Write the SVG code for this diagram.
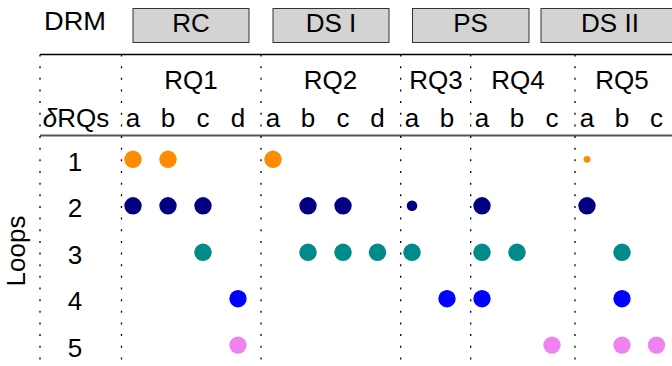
<svg xmlns="http://www.w3.org/2000/svg" width="672" height="366" viewBox="0 0 672 366">
<style>
text{font-family:"Liberation Sans",Arial,sans-serif;font-size:26px;fill:#000;text-anchor:middle}
.box{fill:#d3d3d3;stroke:#333;stroke-width:1}
.dot{stroke:#000;stroke-width:1.3;stroke-dasharray:2 9.65;fill:none}
.o{fill:#ff8c00}.n{fill:#000080}.t{fill:#008b8b}.b{fill:#0000ff}.v{fill:#ee82ee}
</style>
<rect width="672" height="366" fill="#fff"/>
<g id="header">
<text x="75" y="30" textLength="62" lengthAdjust="spacingAndGlyphs">DRM</text>
</g>
<g id="box-RC"><rect class="box" x="133" y="8.5" width="116" height="34"/><text x="191" y="32">RC</text></g>
<g id="box-DSI"><rect class="box" x="273" y="8.5" width="116" height="34"/><text x="331" y="32">DS I</text></g>
<g id="box-PS"><rect class="box" x="412.5" y="8.5" width="116.5" height="34"/><text x="470.5" y="32">PS</text></g>
<g id="box-DSII"><rect class="box" x="541" y="8.5" width="138" height="34"/><text x="610" y="32">DS II</text></g>
<g id="connectors">
<line x1="40" y1="54.5" x2="672" y2="54.5" stroke="#000" stroke-width="1.3"/>
<line x1="40" y1="135.5" x2="672" y2="135.5" stroke="#555" stroke-width="1.8"/>
<line class="dot" x1="40" y1="54.5" x2="40" y2="360"/>
<line class="dot" x1="121.5" y1="54.5" x2="121.5" y2="360"/>
<line class="dot" x1="261" y1="54.5" x2="261" y2="360"/>
<line class="dot" x1="400.7" y1="54.5" x2="400.7" y2="360"/>
<line class="dot" x1="470.7" y1="54.5" x2="470.7" y2="360"/>
<line class="dot" x1="575" y1="54.5" x2="575" y2="360"/>
</g>
<g id="rq-labels">
<text x="191" y="89">RQ1</text>
<text x="330.5" y="89">RQ2</text>
<text x="436" y="89">RQ3</text>
<text x="518" y="89">RQ4</text>
<text x="622" y="89">RQ5</text>
</g>
<g id="sub-labels">
<text x="76" y="127"><tspan font-style="italic">δ</tspan>RQs</text>
<text x="133" y="127">a</text><text x="168" y="127">b</text><text x="203" y="127">c</text><text x="238" y="127">d</text>
<text x="273" y="127">a</text><text x="308" y="127">b</text><text x="343" y="127">c</text><text x="377.5" y="127">d</text>
<text x="412" y="127">a</text><text x="447" y="127">b</text>
<text x="482" y="127">a</text><text x="517" y="127">b</text><text x="552" y="127">c</text>
<text x="587" y="127">a</text><text x="622" y="127">b</text><text x="656.5" y="127">c</text>
</g>
<g id="loops-axis">
<text transform="translate(25,251) rotate(-90)">Loops</text>
<text x="75" y="170.8">1</text>
<text x="75" y="217.3">2</text>
<text x="75" y="263.8">3</text>
<text x="75" y="310.2">4</text>
<text x="75" y="356.6">5</text>
</g>
<g id="row1">
<circle class="o" cx="133" cy="159.3" r="8.7"/><circle class="o" cx="168" cy="159.3" r="8.7"/><circle class="o" cx="273" cy="159.3" r="8.7"/><circle class="o" cx="587" cy="159.3" r="3.4"/>
</g>
<g id="row2">
<circle class="n" cx="133" cy="205.8" r="8.7"/><circle class="n" cx="168" cy="205.8" r="8.7"/><circle class="n" cx="203" cy="205.8" r="8.7"/><circle class="n" cx="308" cy="205.8" r="8.7"/><circle class="n" cx="343" cy="205.8" r="8.7"/><circle class="n" cx="412" cy="205.8" r="5.3"/><circle class="n" cx="482" cy="205.8" r="8.7"/><circle class="n" cx="587" cy="205.8" r="8.7"/>
</g>
<g id="row3">
<circle class="t" cx="203" cy="252.3" r="8.7"/><circle class="t" cx="308" cy="252.3" r="8.7"/><circle class="t" cx="343" cy="252.3" r="8.7"/><circle class="t" cx="377.5" cy="252.3" r="8.7"/><circle class="t" cx="412" cy="252.3" r="8.7"/><circle class="t" cx="482" cy="252.3" r="8.7"/><circle class="t" cx="517" cy="252.3" r="8.7"/><circle class="t" cx="622" cy="252.3" r="8.7"/>
</g>
<g id="row4">
<circle class="b" cx="238" cy="298.7" r="8.7"/><circle class="b" cx="447" cy="298.7" r="8.7"/><circle class="b" cx="482" cy="298.7" r="8.7"/><circle class="b" cx="622" cy="298.7" r="8.7"/>
</g>
<g id="row5">
<circle class="v" cx="238" cy="345.1" r="8.7"/><circle class="v" cx="552" cy="345.1" r="8.7"/><circle class="v" cx="622" cy="345.1" r="8.7"/><circle class="v" cx="656.5" cy="345.1" r="8.7"/>
</g>
</svg>
